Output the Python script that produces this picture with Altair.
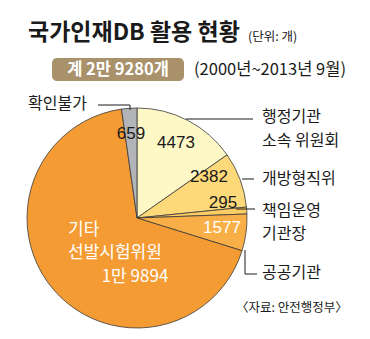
import altair as alt
import pandas as pd

categories = ["행정기관 소속 위원회", "개방형직위", "책임운영 기관장", "공공기관", "기타 선발시험위원", "확인불가"]
values = [4473, 2382, 295, 1577, 19894, 659]
colors = ["#FEF7C6", "#FDD97A", "#FCCD62", "#F9AF47", "#F59B33", "#B3B4B7"]
value_labels = ["4473", "2382", "295", "1577", "1만 9894", "659"]

title_text = "국가인재DB 활용 현황"
unit_text = "(단위: 개)"
total_text = "계 2만 9280개"
period_text = "(2000년~2013년 9월)"
source_text = "〈자료: 안전행정부〉"

KR = "Noto Sans CJK KR"
NUM = "Liberation Sans, sans-serif"

df = pd.DataFrame({"cat": categories, "value": values, "idx": list(range(len(values)))})
one = alt.Data(values=[{"a": 1}])

CX, CY, R = 137, 218, 110

pie = alt.Chart(df).mark_arc(radius=R, stroke="#3a3a3a", strokeWidth=0.8).encode(
    theta=alt.Theta("value:Q", stack=True),
    color=alt.Color("cat:N", scale=alt.Scale(domain=categories, range=colors), legend=None),
    order=alt.Order("idx:Q"),
    x=alt.value(CX), y=alt.value(CY),
)


def txt(s, x, y, size, font=KR, weight="normal", color="#1a1a1a", align="left"):
    return alt.Chart(one).mark_text(
        font=font, fontSize=size, fontWeight=weight, color=color, align=align, baseline="middle"
    ).encode(x=alt.value(x), y=alt.value(y), text=alt.value(s))


def seg(x1, y1, x2, y2):
    return alt.Chart(one).mark_rule(color="#1a1a1a", strokeWidth=1).encode(
        x=alt.value(x1), y=alt.value(y1), x2=alt.value(x2), y2=alt.value(y2)
    )


box = alt.Chart(one).mark_rect(color="#A8916B", cornerRadius=5).encode(
    x=alt.value(52), x2=alt.value(184), y=alt.value(58), y2=alt.value(81)
)

layers = [
    pie,
    txt(title_text, 28, 33, 23, weight="bold"),
    txt(unit_text, 248, 37, 12.5),
    box,
    txt(total_text, 118, 70, 16.5, weight="bold", color="white", align="center"),
    txt(period_text, 194, 70, 16.5),
    # leader lines
    seg(98, 105, 130, 105), seg(130, 105, 130, 110),
    seg(186, 119, 253, 119),
    seg(242, 179, 254, 179),
    seg(236, 209, 255, 209),
    seg(245, 250, 245, 274), seg(245, 274, 257, 274),
    # outside labels
    txt(categories[5], 28, 104, 16),
    txt("행정기관", 262, 117, 16),
    txt("소속 위원회", 262, 141, 16),
    txt(categories[1], 262, 179, 16),
    txt("책임운영", 262, 211, 16),
    txt("기관장", 262, 234, 16),
    txt(categories[3], 262, 273, 16),
    txt(source_text, 236, 308, 12.5),
    # slice numbers
    txt(value_labels[5], 131, 134, 17, font=NUM, align="center"),
    txt(value_labels[0], 176, 143, 17, font=NUM, align="center"),
    txt(value_labels[1], 209, 177, 17, font=NUM, align="center"),
    txt(value_labels[2], 223, 203, 17, font=NUM, align="center"),
    txt(value_labels[3], 222, 228, 17, font=NUM, align="center", color="white"),
    txt("기타", 68, 230, 17, color="white"),
    txt("선발시험위원", 68, 253, 17, color="white"),
    txt(value_labels[4], 135, 277, 17, color="white", align="center"),
]

chart = alt.layer(*layers).properties(
    width=370, height=339, autosize=alt.AutoSizeParams(type="none"), padding=0,
    background="white"
).configure_view(stroke=None)

chart.save("out.html", embed_options={"renderer": "svg", "actions": False})
